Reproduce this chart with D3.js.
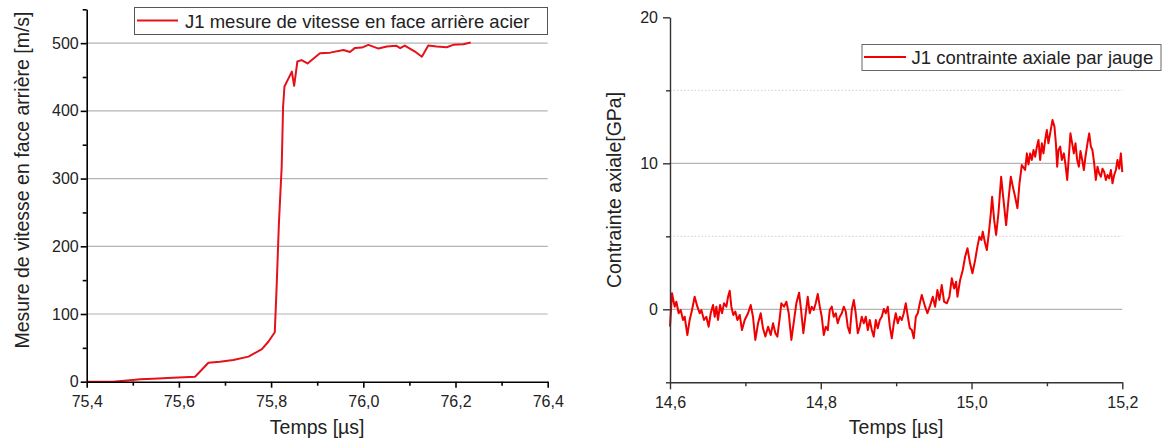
<!DOCTYPE html>
<html><head><meta charset="utf-8">
<script src="https://cdn.jsdelivr.net/npm/d3@7"></script>
<style>
html,body{margin:0;padding:0;background:#fff;}
svg{display:block;font-family:"Liberation Sans",Arial,sans-serif;}
</style></head>
<body>
<svg id="c" width="1164" height="441"></svg>
<script>
// ---------- Left chart data ----------
const velTime = [75.400,75.457,75.500,75.516,75.544,75.587,75.635,75.664,75.689,75.718,75.751,75.780,75.794,75.808,75.812,75.817,75.823,75.826,75.829,75.845,75.850,75.857,75.866,75.879,75.906,75.928,75.957,75.971,75.982,75.997,76.011,76.033,76.051,76.072,76.080,76.090,76.112,76.127,76.141,76.159,76.181,76.195,76.217,76.233];
const velValue = [0,0,2.5,3.5,4.5,6,7.4,28,29.5,32,37,48,59,73,140,235,318,406,436,458,437,473,475,470,485,486,490,487,493,493.5,497.5,492,495,496,492.6,496.5,487.6,480,496.5,495,494,497.5,498.5,501];
const velXTicks = [75.4,75.6,75.8,76.0,76.2,76.4];
const velXMinor = [75.5,75.7,75.9,76.1,76.3];
const velYTicks = [0,100,200,300,400,500];
const velYMinor = [50,150,250,350,450,550];
const velLegend = "J1 mesure de vitesse en face arrière acier";
const velYTitle = "Mesure de vitesse en face arrière [m/s]";
const xTitle = "Temps [µs]";

// ---------- Right chart data ----------
const strTime = [14.6000,14.6027,14.6062,14.6084,14.6115,14.6142,14.6173,14.6195,14.6230,14.6261,14.6292,14.6327,14.6363,14.6394,14.6416,14.6451,14.6482,14.6513,14.6540,14.6571,14.6593,14.6615,14.6637,14.6664,14.6690,14.6717,14.6748,14.6770,14.6792,14.6814,14.6840,14.6867,14.6894,14.6925,14.6955,14.6991,14.7035,14.7071,14.7101,14.7132,14.7168,14.7203,14.7234,14.7265,14.7301,14.7336,14.7367,14.7398,14.7424,14.7455,14.7477,14.7513,14.7544,14.7575,14.7610,14.7646,14.7676,
14.7712,14.7739,14.7769,14.7801,14.7827,14.7854,14.7880,14.7907,14.7933,14.7960,14.7987,14.8013,14.8040,14.8066,14.8093,14.8119,14.8146,14.8172,14.8199,14.8225,14.8252,14.8279,14.8305,14.8332,14.8358,14.8385,14.8411,14.8438,14.8464,14.8491,14.8517,14.8544,14.8571,14.8597,14.8624,14.8650,14.8677,14.8703,14.8730,14.8756,14.8783,14.8809,14.8836,14.8863,14.8889,14.8916,14.8942,14.8969,14.8995,14.9022,14.9048,14.9075,14.9101,14.9128,14.9155,14.9181,14.9208,14.9234,14.9261,14.9287,14.9314,14.9340,
14.9384,14.9415,14.9450,14.9486,14.9517,14.9547,14.9574,14.9605,14.9636,14.9672,14.9707,14.9738,14.9769,14.9795,14.9813,14.9849,14.9884,14.9915,14.9946,14.9981,15.0012,15.0048,15.0078,15.0105,15.0131,15.0149,15.0180,15.0203,15.0229,15.0256,15.0273,15.0300,15.0326,15.0357,15.0393,15.0424,15.0459,15.0490,15.0521,15.0548,15.0578,15.0609,15.0636,15.0667,
15.0711,15.0734,15.0755,15.0778,15.0800,15.0822,15.0844,15.0867,15.0888,15.0910,15.0933,15.0954,15.0977,15.0999,15.1020,15.1043,15.1074,15.1100,15.1119,15.1136,15.1153,15.1176,15.1198,15.1225,15.1246,15.1269,15.1291,15.1312,15.1335,15.1357,15.1379,15.1401,15.1424,15.1445,15.1468,15.1490,15.1511,15.1538,15.1561,15.1583,15.1604,15.1627,15.1649,15.1671,15.1693,15.1716,15.1737,15.1760,15.1782,15.1803,15.1826,15.1849,15.1870,15.1892,15.1915,15.1936,15.1959,15.1981,15.2000];
const strValue = [-1.19,1.10,0.18,0.52,-0.27,-0.05,-0.73,-0.51,-1.76,-0.73,-0.05,0.86,0.18,-0.27,-0.05,-0.73,-0.51,-1.19,-0.27,0.29,-0.51,0.18,-0.73,0.29,-0.27,0.41,0.18,0.86,1.27,0.18,-0.39,-0.16,-0.73,-0.39,-1.42,-0.73,-0.27,0.29,-0.51,-2.10,-0.96,-0.27,-1.30,-1.87,-1.19,-1.76,-0.96,-1.64,-1.87,-0.62,0.41,0.18,0.52,-0.27,-2.10,-0.73,0.41,
1.14,-0.05,-1.64,-0.27,0.86,-0.27,0.18,-0.05,0.41,1.05,0.18,-0.51,-1.76,-1.19,-1.42,-0.05,0.18,-0.51,-0.27,-0.96,-0.51,-0.27,0.18,-0.16,-1.19,-1.64,-0.05,0.64,-0.27,-1.64,-1.19,-0.51,-0.96,-0.51,-1.42,-0.73,-1.42,-1.87,-0.73,-1.30,-0.73,-0.51,0.02,-0.27,0.18,-1.19,-1.99,-0.96,-0.27,-0.96,-0.51,-0.73,-0.27,0.41,-0.51,-1.30,-1.42,-1.99,-0.51,-0.27,0.41,0.98,
0.18,-0.27,0.25,0.86,0.18,1.32,0.64,1.66,0.52,0.41,0.86,2.12,1.43,1.89,0.86,2.01,2.69,3.60,4.18,3.15,2.47,3.37,4.29,4.97,4.75,5.32,4.52,4.06,5.20,6.58,7.71,6.12,5.09,6.58,9.08,7.49,5.77,7.49,9.08,8.40,7.71,6.92,8.63,9.88,
9.54,10.68,9.92,10.68,10.23,10.91,10.45,11.14,11.60,10.23,11.37,10.68,11.60,12.28,11.37,12.05,12.97,12.51,11.37,9.77,10.91,11.14,10.23,10.68,9.92,8.86,10.45,12.05,11.37,10.68,11.37,10.23,9.77,10.84,10.23,9.54,10.45,11.37,12.05,11.14,10.91,10.00,8.86,9.77,9.31,9.08,9.63,9.40,8.86,9.20,8.97,9.54,8.63,9.20,9.54,10.23,9.63,10.68,9.40];
const strXTicks = [14.6,14.8,15.0,15.2];
const strXMinor = [14.7,14.9,15.1];
const strYTicks = [0,10,20];
const strYMinor = [-5,5,15];
const strLegend = "J1 contrainte axiale par jauge";
const strYTitle = "Contrainte axiale[GPa]";

// ---------- Drawing ----------
const fr = d3.formatLocale({decimal:",",thousands:" ",grouping:[3],currency:["","€"]});
const f1 = fr.format(".1f");
const svg = d3.select("#c");
const tickFont = 16, titleFont = 19.5, legFont = 18.5;

function styleAxis(g, color, w){
  g.selectAll(".domain").attr("stroke",color).attr("stroke-width",w);
  g.selectAll(".tick line").attr("stroke",color).attr("stroke-width",w);
  g.selectAll(".tick text").attr("fill","#222").style("font-size",tickFont+"px").style("font-family","'Liberation Sans',Arial,sans-serif");
}

// ===== Left chart =====
{
  const x = d3.scaleLinear().domain([75.4,76.4]).range([86.7,547.7]);
  const y = d3.scaleLinear().domain([0,550]).range([381.7,9.3]);
  const g = svg.append("g");
  g.selectAll("line.grid").data(velYTicks.filter(d=>d>0)).join("line")
    .attr("x1",x(75.4)).attr("x2",x(76.4)).attr("y1",d=>y(d)).attr("y2",d=>y(d))
    .attr("stroke","#b4b4b4").attr("stroke-width",1.2);
  const pts = velTime.map((t,i)=>[t,velValue[i]]);
  g.append("path").datum(pts).attr("fill","none").attr("stroke","#e3121b").attr("stroke-width",2)
    .attr("stroke-linejoin","round")
    .attr("d",d3.line().x(d=>x(d[0])).y(d=>y(d[1])));
  const xa = g.append("g").attr("transform",`translate(0,${y(0)})`)
    .call(d3.axisBottom(x).tickValues(velXTicks).tickFormat(f1).tickSize(6).tickSizeOuter(0).tickPadding(8));
  styleAxis(xa,"#000",1.6);
  const xm = g.append("g").attr("transform",`translate(0,${y(0)})`)
    .call(d3.axisBottom(x).tickValues(velXMinor).tickFormat("").tickSize(4).tickSizeOuter(0));
  styleAxis(xm,"#000",1.6); xm.select(".domain").remove();
  const ya = g.append("g").attr("transform",`translate(${x(75.4)},0)`)
    .call(d3.axisLeft(y).tickValues(velYTicks).tickFormat(d3.format("d")).tickSize(6).tickSizeOuter(0).tickPadding(2));
  styleAxis(ya,"#000",1.6);
  const ym = g.append("g").attr("transform",`translate(${x(75.4)},0)`)
    .call(d3.axisLeft(y).tickValues(velYMinor).tickFormat("").tickSize(4).tickSizeOuter(0));
  styleAxis(ym,"#000",1.6); ym.select(".domain").remove();
  g.append("text").attr("x",(x(75.4)+x(76.4))/2).attr("y",434).attr("text-anchor","middle")
    .style("font-size",titleFont+"px").attr("fill","#222").text(xTitle);
  g.append("text").attr("transform","translate(29,180) rotate(-90)").attr("text-anchor","middle")
    .style("font-size",titleFont+"px").attr("fill","#222").text(velYTitle);
  const lg = g.append("g");
  lg.append("rect").attr("x",134.5).attr("y",7.5).attr("width",413).attr("height",27)
    .attr("fill","#fff").attr("stroke","#555").attr("stroke-width",1);
  lg.append("line").attr("x1",137).attr("x2",178).attr("y1",20.5).attr("y2",20.5)
    .attr("stroke","#e3121b").attr("stroke-width",2);
  lg.append("text").attr("x",185).attr("y",28).style("font-size",legFont+"px").attr("fill","#222").text(velLegend);
}

// ===== Right chart =====
{
  const x = d3.scaleLinear().domain([14.6,15.2]).range([670,1122.3]);
  const y = d3.scaleLinear().domain([-5,20]).range([382.3,17.3]);
  const g = svg.append("g");
  g.selectAll("line.gs").data([0,10]).join("line")
    .attr("x1",x(14.6)).attr("x2",x(15.2)).attr("y1",d=>y(d)).attr("y2",d=>y(d))
    .attr("stroke","#b4b4b4").attr("stroke-width",1.2);
  g.selectAll("line.gd").data([5,15]).join("line")
    .attr("x1",x(14.6)).attr("x2",x(15.2)).attr("y1",d=>y(d)).attr("y2",d=>y(d))
    .attr("stroke","#cfcfcf").attr("stroke-width",1).attr("stroke-dasharray","1.5,2");
  const pts = strTime.map((t,i)=>[t,strValue[i]]);
  g.append("path").datum(pts).attr("fill","none").attr("stroke","#f00000").attr("stroke-width",2)
    .attr("stroke-linejoin","round")
    .attr("d",d3.line().x(d=>x(d[0])).y(d=>y(d[1])));
  const xa = g.append("g").attr("transform",`translate(0,${y(-5)})`)
    .call(d3.axisBottom(x).tickValues(strXTicks).tickFormat(f1).tickSize(7).tickSizeOuter(0).tickPadding(7));
  styleAxis(xa,"#333",1.4);
  const xm = g.append("g").attr("transform",`translate(0,${y(-5)})`)
    .call(d3.axisBottom(x).tickValues(strXMinor).tickFormat("").tickSize(4).tickSizeOuter(0));
  styleAxis(xm,"#333",1.4); xm.select(".domain").remove();
  const ya = g.append("g").attr("transform",`translate(${x(14.6)},0)`)
    .call(d3.axisLeft(y).tickValues(strYTicks).tickFormat(d3.format("d")).tickSize(7).tickSizeOuter(0).tickPadding(5));
  styleAxis(ya,"#333",1.4);
  const ym = g.append("g").attr("transform",`translate(${x(14.6)},0)`)
    .call(d3.axisLeft(y).tickValues(strYMinor).tickFormat("").tickSize(4).tickSizeOuter(0));
  styleAxis(ym,"#333",1.4); ym.select(".domain").remove();
  g.append("text").attr("x",(x(14.6)+x(15.2))/2).attr("y",434).attr("text-anchor","middle")
    .style("font-size",titleFont+"px").attr("fill","#222").text(xTitle);
  g.append("text").attr("transform","translate(621,190) rotate(-90)").attr("text-anchor","middle")
    .style("font-size",titleFont+"px").attr("fill","#222").text(strYTitle);
  const lg = g.append("g");
  lg.append("rect").attr("x",862).attr("y",44.5).attr("width",299).attr("height",26)
    .attr("fill","#fff").attr("stroke","#666").attr("stroke-width",1);
  lg.append("line").attr("x1",864).attr("x2",906).attr("y1",57).attr("y2",57)
    .attr("stroke","#f00000").attr("stroke-width",1.8);
  lg.append("text").attr("x",911.5).attr("y",63.5).style("font-size",legFont+"px").attr("fill","#222").text(strLegend);
}
</script>
</body></html>
